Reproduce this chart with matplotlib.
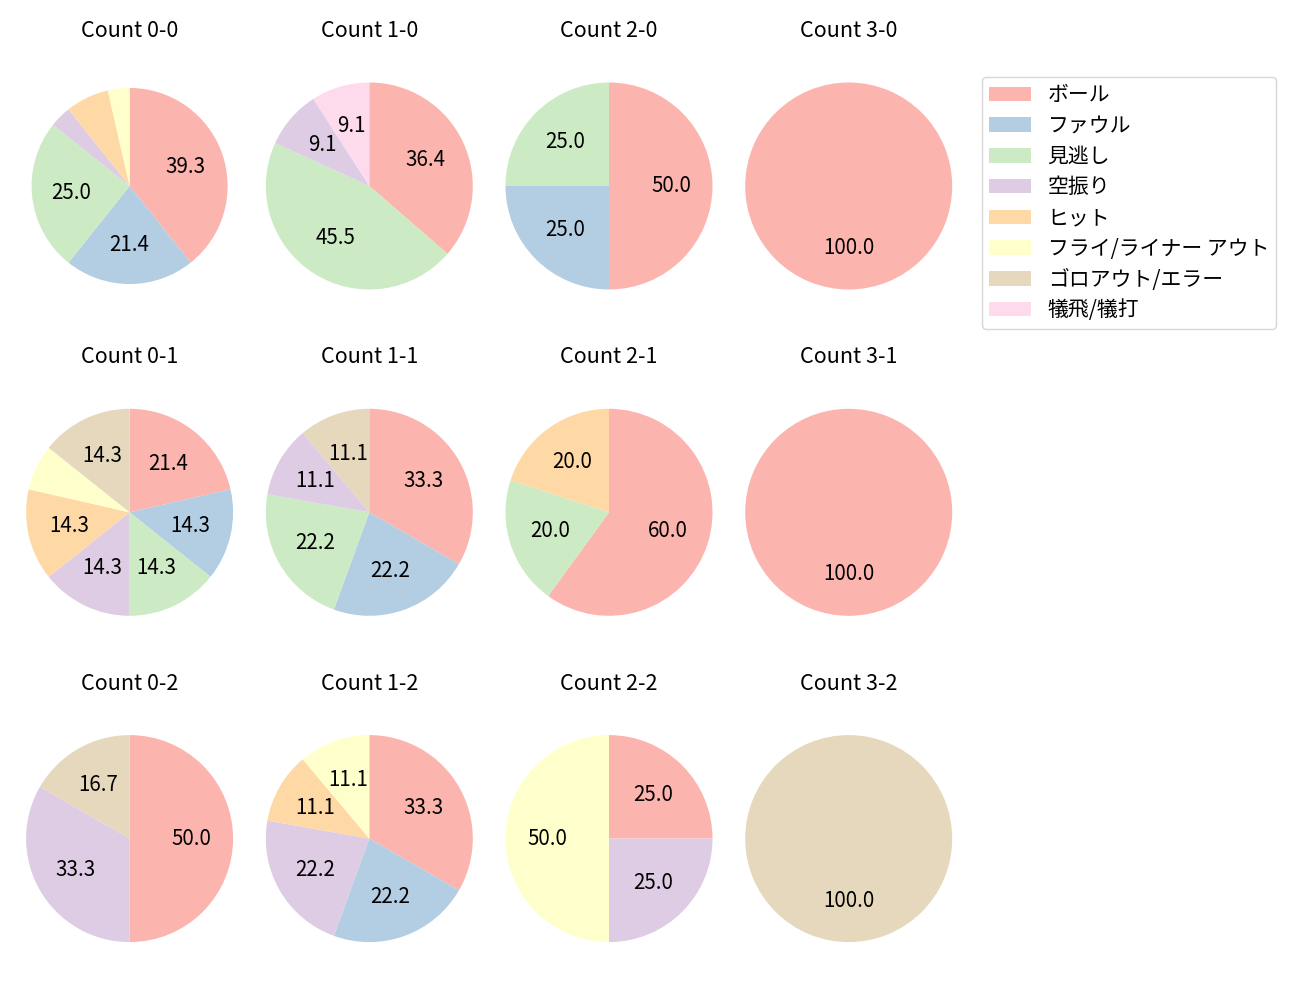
import matplotlib
matplotlib.use("Agg")
import matplotlib.pyplot as plt
from matplotlib.patches import Patch

plt.rcParams['font.family'] = ['Noto Sans CJK JP', 'DejaVu Sans']

categories = ['ボール', 'ファウル', '見逃し', '空振り', 'ヒット',
              'フライ/ライナー アウト', 'ゴロアウト/エラー', '犠飛/犠打']
colors = ['#fbb4ae', '#b3cde3', '#ccebc5', '#decbe4',
          '#fed9a6', '#ffffcc', '#e5d8bd', '#fddaec']

# pitch outcome counts per ball-strike count (order follows categories)
count_0_0 = [11, 6, 7, 1, 2, 1, 0, 0]
count_1_0 = [4, 0, 5, 1, 0, 0, 0, 1]
count_2_0 = [2, 1, 1, 0, 0, 0, 0, 0]
count_3_0 = [1, 0, 0, 0, 0, 0, 0, 0]
count_0_1 = [3, 2, 2, 2, 2, 1, 2, 0]
count_1_1 = [3, 2, 2, 1, 0, 0, 1, 0]
count_2_1 = [3, 0, 1, 0, 1, 0, 0, 0]
count_3_1 = [1, 0, 0, 0, 0, 0, 0, 0]
count_0_2 = [3, 0, 0, 2, 0, 0, 1, 0]
count_1_2 = [3, 2, 0, 2, 1, 1, 0, 0]
count_2_2 = [1, 0, 0, 1, 0, 2, 0, 0]
count_3_2 = [0, 0, 0, 0, 0, 0, 1, 0]

grid = {
    (0, 0): count_0_0, (1, 0): count_1_0, (2, 0): count_2_0, (3, 0): count_3_0,
    (0, 1): count_0_1, (1, 1): count_1_1, (2, 1): count_2_1, (3, 1): count_3_1,
    (0, 2): count_0_2, (1, 2): count_1_2, (2, 2): count_2_2, (3, 2): count_3_2,
}

W, H = 1300, 1000
fig = plt.figure(figsize=(13, 10), dpi=100)

R = 103.5
half = 1.25 * R
for (b, s), vals in grid.items():
    cx = 129.6 + 239.7 * b
    cy = 186.0 + 326.3 * s
    ax = fig.add_axes([(cx - half) / W, 1 - (cy + half) / H, 2 * half / W, 2 * half / H])
    radius = 0.947 if (b, s) == (0, 0) else 1.0
    ax.pie(vals, colors=colors, startangle=90, counterclock=False, radius=radius,
           autopct=lambda p: f'{p:.1f}' if p >= 8 else '',
           textprops={'fontsize': 14.8})
    ax.set_title(f'Count {b}-{s}', fontsize=15.5, pad=14)

handles = [Patch(facecolor=c, label=l) for c, l in zip(colors, categories)]
fig.legend(handles=handles, loc='upper left', bbox_to_anchor=(982 / W, 1 - 77 / H),
           borderaxespad=0, fontsize=15, frameon=True, labelspacing=0.418,
           borderpad=0.35)

fig.savefig('out.png', dpi=100)
